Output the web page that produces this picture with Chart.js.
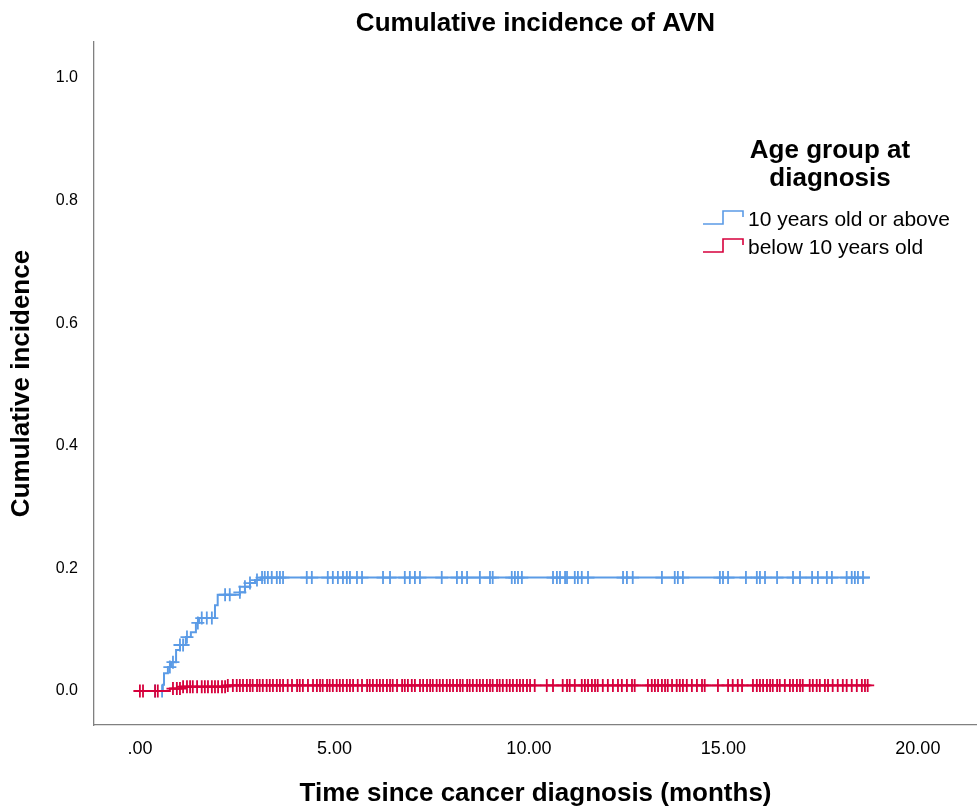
<!DOCTYPE html>
<html>
<head>
<meta charset="utf-8">
<script src="https://cdn.jsdelivr.net/npm/chart.js@4.4.1/dist/chart.umd.min.js"></script>
<style>
  html, body { margin: 0; padding: 0; background: #fff; }
</style>
</head>
<body>
<canvas id="avnChart" width="977" height="809"></canvas>
<script>
// ===== data =====
const chartTitle = 'Cumulative incidence of AVN';
const seriesNames = ['10 years old or above', 'below 10 years old'];
const seriesColors = ['#5b9be6', '#d6003c'];
const legendTitle = ['Age group at', 'diagnosis'];

const xTicks = [0, 5, 10, 15, 20];
const xTickLabels = ['.00', '5.00', '10.00', '15.00', '20.00'];
const yTicks = [0, 0.2, 0.4, 0.6, 0.8, 1.0];

// 10 years old or above : step curve (time in months, cumulative incidence)
const olderTimes = [0, 0.59, 0.62, 0.72, 0.80, 0.93, 1.03, 1.18, 1.31, 1.44, 1.52, 1.93, 2.00, 2.57, 2.70, 2.83, 2.96, 3.11, 18.77];
const olderCum   = [0, 0.010, 0.029, 0.039, 0.047, 0.067, 0.075, 0.088, 0.096, 0.111, 0.119, 0.140, 0.157, 0.161, 0.170, 0.176, 0.181, 0.185, 0.185];
const olderCensor = [0.39, 0.57, 0.77, 0.85, 1.03, 1.11, 1.21, 1.49, 1.59, 1.72, 1.85, 2.19, 2.31, 2.57, 2.70, 2.83, 3.01,
  3.14, 3.21, 3.29, 3.39, 3.52, 3.60, 3.68, 4.29, 4.42, 4.83, 4.96, 5.09, 5.22, 5.32, 5.40, 5.58, 5.71,
  6.25, 6.43, 6.81, 6.94, 7.07, 7.20, 7.76, 8.15, 8.28, 8.41, 8.74, 9.00, 9.07, 9.56, 9.64, 9.72, 9.82,
  10.62, 10.72, 10.80, 10.93, 10.98, 11.18, 11.26, 11.36, 11.52, 12.42, 12.52, 12.67, 13.42, 13.75, 13.83, 13.96,
  14.91, 14.99, 15.12, 15.58, 15.86, 15.94, 16.07, 16.38, 16.79, 16.97, 17.28, 17.43, 17.66, 17.79,
  18.17, 18.30, 18.38, 18.46, 18.59];

// below 10 years old
const youngerTimes = [0, 0.77, 1.05, 2.20, 18.77];
const youngerCum   = [0, 0.004, 0.007, 0.009, 0.009];
const youngerCensor = [0, 0.08, 0.39, 0.46, 0.85, 0.95, 1.03, 1.11, 1.21, 1.29, 1.36, 1.47, 1.59, 1.67, 1.75, 1.85, 1.93,
  2.01, 2.11, 2.19, 2.26, 2.39, 2.49, 2.57, 2.65, 2.75, 2.83, 2.90, 3.01, 3.08, 3.16, 3.26, 3.34, 3.42, 3.52,
  3.60, 3.68, 3.80, 3.91, 4.04, 4.11, 4.19, 4.32, 4.45, 4.55, 4.63, 4.70, 4.81, 4.88, 4.96, 5.06, 5.14, 5.22,
  5.32, 5.40, 5.48, 5.60, 5.71, 5.84, 5.91, 5.99, 6.09, 6.17, 6.25, 6.35, 6.43, 6.50, 6.61, 6.74, 6.81, 6.89,
  6.99, 7.07, 7.20, 7.28, 7.38, 7.46, 7.53, 7.63, 7.71, 7.79, 7.89, 7.97, 8.05, 8.15, 8.23, 8.30, 8.41, 8.48,
  8.56, 8.66, 8.74, 8.82, 8.92, 9.00, 9.07, 9.18, 9.25, 9.33, 9.43, 9.51, 9.59, 9.69, 9.77, 9.85, 9.95, 10.03,
  10.15, 10.46, 10.62, 10.87, 10.98, 11.05, 11.18, 11.36, 11.44, 11.52, 11.62, 11.70, 11.77, 11.90, 12.03,
  12.16, 12.29, 12.39, 12.52, 12.65, 12.72, 13.06, 13.16, 13.24, 13.32, 13.42, 13.50, 13.57, 13.68, 13.80,
  13.88, 13.96, 14.06, 14.19, 14.32, 14.45, 14.52, 14.86, 15.12, 15.24, 15.37, 15.48, 15.76, 15.86, 15.94,
  16.02, 16.12, 16.20, 16.27, 16.38, 16.45, 16.58, 16.71, 16.79, 16.89, 16.97, 17.04, 17.22, 17.30, 17.40,
  17.48, 17.61, 17.69, 17.81, 17.94, 18.07, 18.17, 18.30, 18.43, 18.56, 18.64, 18.71];

const FONT = "'Liberation Sans', Arial, sans-serif";

// value of a step curve at time t
function stepAt(times, vals, t) {
    let v = vals[0];
    for (let i = 0; i < times.length; i++) {
        if (times[i] <= t) v = vals[i];
    }
    return v;
}
function curvePoints(times, vals) {
    return times.map((t, i) => ({ x: t, y: vals[i] }));
}
function censorPoints(list, times, vals) {
    return list.map(t => ({ x: t, y: stepAt(times, vals, t) }));
}

// ===== title over the plot area + legend with step icons =====
const titleAndLegend = {
    id: 'titleAndLegend',
    afterDraw(chart) {
        const ctx = chart.ctx;
        const area = chart.chartArea;
        ctx.save();
        ctx.fillStyle = '#000';
        ctx.textAlign = 'center';
        ctx.textBaseline = 'middle';
        ctx.font = 'bold 26px ' + FONT;
        ctx.fillText(chartTitle, (area.left + area.right) / 2, 24);

        ctx.font = 'bold 26px ' + FONT;
        legendTitle.forEach((line, i) => ctx.fillText(line, 830, 151 + i * 28));
        ctx.font = '21px ' + FONT;
        ctx.textAlign = 'left';
        seriesNames.forEach((name, i) => {
            const y = 219 + i * 28;
            ctx.strokeStyle = seriesColors[i];
            ctx.lineWidth = 1.6;
            ctx.beginPath();
            ctx.moveTo(703, y + 5);
            ctx.lineTo(723, y + 5);
            ctx.lineTo(723, y - 8);
            ctx.lineTo(743, y - 8);
            ctx.lineTo(743, y - 2);
            ctx.stroke();
            ctx.fillText(name, 748, y + 1);
        });
        ctx.restore();
    }
};

const cross = (color) => ({
    showLine: false,
    pointStyle: 'cross',
    pointRadius: 6.5,
    pointHoverRadius: 6.5,
    pointBorderWidth: 1.8,
    pointBorderColor: color,
    borderColor: color,
    backgroundColor: color
});

new Chart(document.getElementById('avnChart').getContext('2d'), {
    type: 'line',
    data: {
        datasets: [
            {
                label: seriesNames[1],
                data: curvePoints(youngerTimes, youngerCum),
                borderColor: seriesColors[1],
                borderWidth: 2,
                stepped: true,
                pointRadius: 0,
                fill: false,
                order: 0
            },
            Object.assign({ label: seriesNames[1] + ' censored', data: censorPoints(youngerCensor, youngerTimes, youngerCum), order: 0 }, cross(seriesColors[1])),
            {
                label: seriesNames[0],
                data: curvePoints(olderTimes, olderCum),
                borderColor: seriesColors[0],
                borderWidth: 2,
                stepped: true,
                pointRadius: 0,
                fill: false,
                order: 1
            },
            Object.assign({ label: seriesNames[0] + ' censored', data: censorPoints(olderCensor, olderTimes, olderCum), order: 1 }, cross(seriesColors[0]))
        ]
    },
    options: {
        responsive: false,
        animation: false,
        layout: { autoPadding: false, padding: { top: 42, right: 0, left: 0, bottom: 0 } },
        plugins: {
            legend: { display: false },
            tooltip: { enabled: false },
            title: { display: false }
        },
        scales: {
            x: {
                type: 'linear',
                min: -1.18,
                max: 21.52,
                afterFit(scale) {
                    scale.height = 84;
                    scale.paddingLeft = 0;
                    scale.paddingRight = 0;
                },
                afterBuildTicks(scale) { scale.ticks = xTicks.map(v => ({ value: v })); },
                grid: { display: false, drawTicks: false },
                border: { display: true, color: '#808080', width: 1.3 },
                ticks: {
                    color: '#000',
                    padding: 13,
                    font: { family: FONT, size: 18 },
                    callback: (v) => xTickLabels[xTicks.indexOf(v)]
                },
                title: {
                    display: true,
                    text: 'Time since cancer diagnosis (months)',
                    color: '#000',
                    font: { family: FONT, size: 26, weight: 'bold' },
                    padding: { top: 0, bottom: 0 }
                }
            },
            y: {
                type: 'linear',
                min: -0.0555,
                max: 1.0587,
                afterFit(scale) {
                    scale.width = 94;
                    scale.paddingTop = 0;
                    scale.paddingBottom = 0;
                },
                afterBuildTicks(scale) { scale.ticks = yTicks.map(v => ({ value: v })); },
                grid: { display: false, drawTicks: false },
                border: { display: true, color: '#808080', width: 1.3 },
                ticks: {
                    color: '#000',
                    padding: 16,
                    font: { family: FONT, size: 16 },
                    callback: (v) => v.toFixed(1)
                },
                title: {
                    display: true,
                    text: 'Cumulative incidence',
                    color: '#000',
                    font: { family: FONT, size: 26, weight: 'bold' },
                    padding: { top: 6, bottom: 0 }
                }
            }
        }
    },
    plugins: [titleAndLegend]
});
</script>
</body>
</html>
